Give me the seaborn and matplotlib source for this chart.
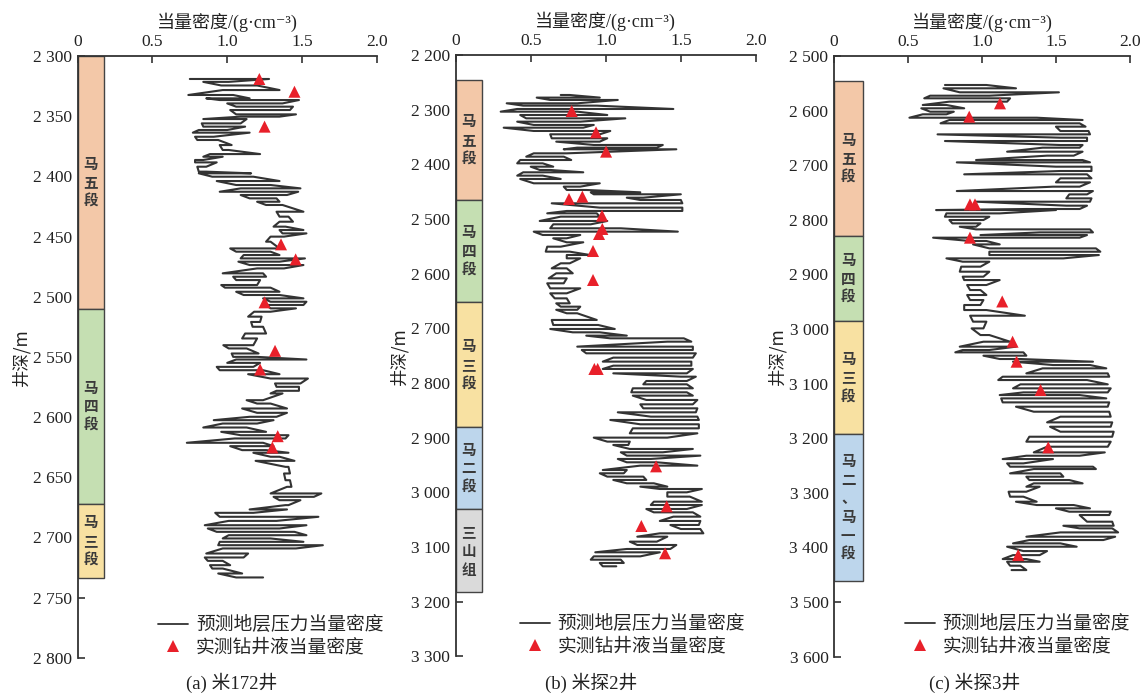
import matplotlib
matplotlib.use('Agg')
import matplotlib.pyplot as plt
import numpy as np
import pandas as pd
import seaborn as sns
from matplotlib.ticker import FuncFormatter, MultipleLocator
from matplotlib.lines import Line2D

# ---------------- data ----------------
# Well (a) 米172井 : depth, low / high of the predicted-density zigzag
a_depth = [2319.1, 2321.5, 2324.5, 2328.3, 2332.4, 2335.2, 2336.6, 2339.4, 2342.1, 2344.9, 2348.5, 2350.4,
           2352.4, 2356.0, 2358.7, 2361.5, 2363.7, 2367.1, 2369.8, 2374.0, 2378.1, 2381.5, 2383.7, 2386.4,
           2388.4, 2392.0, 2396.1, 2397.5, 2400.3, 2403.9, 2407.2, 2410.0, 2412.8, 2415.5, 2418.3, 2421.1,
           2423.8, 2429.4, 2433.5, 2437.7, 2441.8, 2444.6, 2447.4, 2450.1, 2454.3, 2459.9, 2462.6, 2465.4,
           2468.2, 2470.9, 2473.7, 2476.5, 2480.6, 2483.4, 2486.2, 2490.3, 2492.5, 2495.9, 2498.6, 2501.4,
           2504.2, 2506.9, 2509.7, 2512.5, 2516.6, 2521.0, 2525.0, 2530.6, 2534.7, 2540.3, 2543.0, 2547.2,
           2550.0, 2552.2, 2555.0, 2558.3, 2561.1, 2564.4, 2568.0, 2572.1, 2574.9, 2578.2, 2580.4, 2586.0,
           2588.8, 2592.9, 2596.5, 2599.8, 2602.6, 2605.4, 2608.7, 2612.3, 2615.1, 2617.8, 2621.4, 2624.2,
           2627.5, 2629.7, 2633.0, 2636.4, 2641.4, 2646.9, 2652.5, 2658.0, 2663.5, 2666.3, 2669.1, 2673.2,
           2676.8, 2679.6, 2682.9, 2686.3, 2689.9, 2692.6, 2695.4, 2698.2, 2700.9, 2703.7, 2706.5, 2709.2,
           2713.4, 2716.7, 2719.5, 2723.1, 2725.9, 2730.0, 2733.3]
a_low = [0.75, 0.84, 0.96, 0.97, 0.74, 0.86, 0.95, 1.00, 1.06, 1.02, 1.06, 1.09,
         0.84, 0.83, 0.84, 0.81, 0.77, 0.785, 0.80, 0.95, 0.97, 0.885, 0.84, 0.785,
         0.785, 0.80, 0.81, 0.81, 0.90, 0.93, 1.06, 1.09, 0.95, 1.09, 1.15, 1.20,
         1.26, 1.33, 1.35, 1.35, 1.31, 1.35, 1.37, 1.29, 1.26, 1.02, 1.06, 1.11,
         1.09, 1.075, 1.15, 1.20, 0.97, 1.04, 1.06, 0.96, 0.985, 1.06, 1.11, 1.24,
         1.29, 1.26, 1.29, 1.18, 1.14, 1.16, 1.17, 1.12, 1.10, 0.974, 1.01, 1.03,
         1.04, 1.06, 1.00, 0.93, 0.95, 1.14, 1.29, 1.32, 1.33, 1.33, 1.29, 1.13,
         1.20, 1.10, 1.20, 1.15, 0.91, 0.97, 0.84, 0.96, 1.09, 1.05, 0.73, 1.02,
         1.10, 1.175, 1.29, 1.19, 1.39, 1.38, 1.39, 1.40, 1.29, 1.31, 1.35, 1.39,
         1.15, 0.92, 0.95, 1.01, 0.85, 0.87, 0.93, 1.01, 0.97, 0.95, 0.94, 0.97,
         0.86, 0.85, 0.87, 0.885, 0.90, 0.94, 1.06]
a_high = [1.28, 1.01, 1.20, 1.35, 1.04, 1.15, 1.48, 1.37, 1.44, 1.42, 1.46, 1.35,
          1.13, 1.09, 1.12, 1.00, 1.15, 0.91, 0.94, 1.03, 1.01, 1.22, 0.97, 0.84,
          0.93, 0.86, 0.86, 1.16, 1.175, 1.35, 1.29, 1.49, 1.475, 1.40, 1.33, 1.35,
          1.37, 1.51, 1.41, 1.44, 1.39, 1.51, 1.53, 1.38, 1.29, 1.35, 1.29, 1.35,
          1.52, 1.35, 1.51, 1.38, 1.24, 1.26, 1.22, 1.20, 1.29, 1.35, 1.35, 1.51,
          1.53, 1.51, 1.46, 1.29, 1.23, 1.22, 1.24, 1.26, 1.20, 1.175, 1.13, 1.21,
          1.20, 1.53, 1.22, 1.175, 1.24, 1.35, 1.54, 1.49, 1.48, 1.48, 1.37, 1.24,
          1.29, 1.40, 1.40, 1.33, 1.31, 1.20, 1.13, 1.26, 1.41, 1.39, 1.24, 1.31,
          1.26, 1.41, 1.35, 1.45, 1.41, 1.42, 1.42, 1.43, 1.63, 1.58, 1.49, 1.41,
          1.40, 1.175, 1.61, 1.33, 1.53, 1.35, 1.45, 1.53, 1.29, 1.51, 1.64, 1.46,
          1.14, 1.11, 0.97, 1.02, 0.97, 1.10, 1.24]
a_meas_depth = [2319.1, 2329.7, 2358.7, 2456.5, 2469.0, 2504.7, 2545.0, 2560.5, 2615.9, 2625.3]
a_meas_dens = [1.215, 1.45, 1.25, 1.36, 1.458, 1.25, 1.32, 1.22, 1.338, 1.302]
a_strata = ['马五段', '马四段', '马三段']
a_top = [2300, 2510, 2672]
a_bot = [2510, 2672, 2734]

# Well (b) 米探2井
b_depth = [2273.2, 2278.0, 2282.3, 2288.4, 2292.7, 2298.8, 2303.7, 2309.8, 2315.9, 2322.0, 2328.0, 2333.0,
           2339.0, 2345.1, 2352.4, 2358.5, 2364.6, 2369.5, 2372.5, 2379.9, 2386.0, 2392.1, 2398.2, 2404.3,
           2410.3, 2414.6, 2420.7, 2426.8, 2434.7, 2440.8, 2446.9, 2451.2, 2454.8, 2461.0, 2465.2, 2471.3,
           2479.2, 2485.3, 2489.6, 2495.7, 2503.6, 2509.7, 2517.0, 2523.1, 2529.2, 2535.3, 2542.6, 2550.6,
           2559.7, 2565.8, 2571.9, 2581.0, 2590.2, 2599.3, 2608.5, 2617.6, 2626.8, 2635.9, 2645.1, 2654.2,
           2660.3, 2666.0, 2672.4, 2684.6, 2693.8, 2701.1, 2707.2, 2713.3, 2718.2, 2724.3, 2733.4, 2739.5,
           2745.6, 2753.5, 2760.8, 2768.2, 2774.2, 2782.2, 2788.3, 2796.2, 2802.3, 2809.6, 2816.9, 2823.0,
           2830.9, 2838.9, 2846.2, 2853.5, 2861.4, 2867.5, 2875.4, 2882.8, 2891.9, 2899.8, 2907.1, 2913.2,
           2920.5, 2926.6, 2932.7, 2938.8, 2944.9, 2951.0, 2959.0, 2965.0, 2971.1, 2977.2, 2983.3, 2989.4,
           2993.7, 2999.8, 3007.7, 3016.9, 3023.0, 3030.3, 3036.4, 3044.3, 3052.2, 3059.5, 3066.9, 3074.8,
           3080.9, 3090.0, 3096.1, 3103.4, 3109.5, 3116.9, 3123.0, 3129.0, 3135.1]
b_low = [0.70, 0.54, 0.63, 0.34, 0.45, 0.41, 0.30, 0.43, 0.47, 0.41, 0.52, 0.32,
         0.52, 0.63, 0.64, 0.67, 0.92, 0.81, 0.72, 0.52, 0.47, 0.43, 0.41, 0.50,
         0.56, 0.45, 0.41, 0.43, 0.52, 0.72, 0.74, 0.90, 0.92, 1.14, 1.23, 0.64,
         0.96, 0.74, 0.61, 0.70, 0.56, 0.65, 0.63, 0.52, 0.58, 0.65, 0.74, 0.61,
         0.60, 0.74, 0.74, 0.70, 0.64, 0.67, 0.62, 0.61, 0.63, 0.63, 0.66, 0.67,
         0.70, 0.67, 0.74, 0.64, 0.65, 0.63, 0.78, 0.87, 1.03, 1.41, 0.81, 0.84,
         0.87, 1.05, 0.98, 1.05, 0.98, 1.05, 1.50, 1.27, 1.25, 1.18, 1.17, 1.18,
         1.27, 1.23, 1.25, 1.08, 1.30, 1.03, 1.23, 1.18, 1.16, 0.92, 1.01, 1.05,
         1.16, 1.10, 1.14, 1.08, 1.14, 1.23, 0.98, 0.96, 1.01, 1.05, 1.14, 1.23,
         1.36, 1.41, 1.41, 1.32, 1.30, 1.27, 1.32, 1.45, 1.36, 1.43, 1.50, 1.36,
         1.21, 1.16, 1.21, 1.14, 0.93, 0.92, 0.90, 0.96, 0.98]
b_high = [0.76, 0.96, 1.08, 0.81, 0.94, 1.45, 0.81, 1.01, 1.13, 0.83, 0.92, 0.85,
          1.03, 0.96, 1.01, 0.96, 1.38, 1.34, 1.47, 0.74, 0.72, 0.77, 0.58, 0.65,
          0.63, 0.85, 0.58, 0.70, 0.96, 0.83, 0.87, 1.23, 1.50, 1.25, 1.50, 1.51,
          1.51, 1.51, 0.94, 0.96, 1.01, 0.90, 1.10, 1.48, 0.83, 0.74, 0.85, 0.70,
          0.76, 0.895, 0.83, 0.76, 0.74, 0.78, 0.74, 0.72, 0.83, 0.74, 0.74, 0.76,
          0.83, 0.81, 0.81, 0.94, 0.95, 1.06, 0.96, 1.14, 1.52, 1.57, 1.58, 1.58,
          1.60, 1.58, 1.57, 1.57, 1.58, 1.54, 1.60, 1.54, 1.54, 1.58, 1.54, 1.58,
          1.61, 1.58, 1.61, 1.60, 1.61, 1.62, 1.62, 1.62, 1.61, 1.41, 1.16, 1.15,
          1.58, 1.38, 1.63, 1.30, 1.34, 1.61, 1.14, 1.12, 1.25, 1.27, 1.32, 1.41,
          1.64, 1.54, 1.56, 1.64, 1.64, 1.54, 1.58, 1.63, 1.63, 1.62, 1.63, 1.65,
          1.41, 1.34, 1.47, 1.43, 1.36, 1.23, 1.10, 1.12, 1.07]
b_meas_depth = [2302.5, 2341.5, 2376.8, 2459.1, 2463.4, 2493.9, 2518.2, 2527.4, 2558.5, 2611.5,
                2774.2, 2774.2, 2952.3, 3025.4, 3061.4, 3111.3]
b_meas_dens = [0.773, 0.935, 1.002, 0.844, 0.755, 0.975, 0.977, 0.955, 0.915, 0.915,
               0.924, 0.946, 1.335, 1.406, 1.237, 1.395]
b_strata = ['马五段', '马四段', '马三段', '马二段', '三山组']
b_top = [2246, 2465, 2652, 2881, 3031]
b_bot = [2465, 2652, 2881, 3031, 3183]

# Well (c) 米探3井
c_depth = [2553.1, 2559.2, 2566.5, 2572.7, 2577.5, 2583.6, 2589.7, 2595.8, 2602.0, 2606.8, 2613.0, 2617.2,
           2623.3, 2629.4, 2637.4, 2643.5, 2649.6, 2655.7, 2663.0, 2667.9, 2675.2, 2682.5, 2690.5, 2694.8,
           2702.7, 2710.6, 2716.7, 2724.0, 2731.4, 2739.3, 2747.3, 2753.4, 2760.7, 2766.8, 2774.1, 2780.2,
           2782.1, 2788.2, 2794.3, 2800.4, 2806.5, 2812.6, 2817.5, 2823.0, 2827.9, 2832.7, 2838.8, 2845.0,
           2852.3, 2858.4, 2864.5, 2870.6, 2876.7, 2885.8, 2895.0, 2904.1, 2910.3, 2919.4, 2928.6, 2937.7,
           2946.9, 2956.0, 2965.2, 2975.6, 2986.5, 2998.8, 3011.0, 3023.2, 3032.3, 3038.4, 3042.7, 3048.8,
           3054.9, 3059.8, 3065.9, 3072.0, 3081.2, 3087.3, 3093.4, 3101.3, 3108.6, 3116.0, 3120.9, 3127.0,
           3134.3, 3142.2, 3151.4, 3160.5, 3170.9, 3178.9, 3188.0, 3197.2, 3206.3, 3215.5, 3225.9, 3232.0,
           3238.1, 3246.0, 3252.1, 3256.4, 3264.3, 3270.4, 3276.5, 3282.6, 3288.7, 3297.9, 3307.0, 3316.2,
           3322.3, 3328.4, 3334.5, 3340.6, 3352.8, 3360.2, 3365.0, 3372.4, 3380.3, 3386.4, 3392.5, 3398.6,
           3406.6, 3414.0, 3421.2, 3426.1, 3433.4, 3441.4]
c_low = [0.75, 0.74, 0.85, 0.65, 0.61, 0.78, 0.60, 0.59, 0.65, 0.60, 0.51, 0.78,
         0.72, 1.50, 1.53, 0.70, 1.53, 0.75, 1.53, 1.41, 1.17, 1.44, 0.96, 0.83,
         1.50, 1.53, 0.88, 1.53, 1.50, 1.48, 0.83, 1.59, 1.57, 0.96, 1.57, 1.30,
         0.69, 0.76, 0.75, 0.78, 0.80, 0.85, 0.96, 1.39, 0.99, 0.67, 0.92, 0.94,
         1.05, 1.05, 1.05, 0.76, 0.87, 0.86, 0.85, 0.87, 0.88, 0.90, 0.92, 0.90,
         0.92, 0.88, 0.88, 0.92, 0.94, 0.93, 0.99, 1.01, 0.85, 0.87, 0.82, 1.01,
         1.12, 1.21, 1.48, 1.41, 1.30, 1.14, 1.11, 1.26, 1.21, 1.28, 1.12, 1.13,
         1.14, 1.23, 1.35, 1.53, 1.44, 1.46, 1.53, 1.32, 1.30, 1.44, 1.35, 1.30,
         1.14, 1.17, 1.19, 1.35, 1.19, 1.30, 1.32, 1.35, 1.30, 1.18, 1.19, 1.23,
         1.37, 1.50, 1.59, 1.66, 1.71, 1.55, 1.66, 1.53, 1.30, 1.32, 1.21, 1.17,
         1.28, 1.21, 1.14, 1.17, 1.19, 1.20]
c_high = [1.03, 1.23, 1.52, 1.05, 1.19, 1.17, 0.76, 0.88, 0.81, 0.76, 1.37, 1.68,
          1.66, 1.70, 1.72, 1.73, 1.71, 1.71, 1.68, 1.66, 1.68, 1.62, 1.68, 1.73,
          1.74, 1.74, 1.71, 1.74, 1.73, 1.66, 1.75, 1.71, 1.74, 1.73, 1.71, 1.66,
          1.50, 1.12, 1.05, 1.01, 0.99, 0.96, 1.73, 1.75, 1.71, 1.66, 1.03, 1.12,
          1.77, 1.80, 1.79, 1.55, 1.05, 0.99, 1.05, 1.01, 1.12, 1.03, 0.99, 1.03,
          1.01, 0.99, 1.03, 1.29, 1.03, 1.01, 1.05, 1.19, 1.23, 1.05, 1.28, 1.30,
          1.26, 1.75, 1.73, 1.84, 1.85, 1.86, 1.71, 1.85, 1.87, 1.85, 1.66, 1.84,
          1.86, 1.85, 1.86, 1.87, 1.88, 1.87, 1.89, 1.88, 1.87, 1.85, 1.83, 1.66,
          1.48, 1.28, 1.75, 1.77, 1.53, 1.55, 1.59, 1.68, 1.39, 1.30, 1.28, 1.37,
          1.62, 1.73, 1.87, 1.86, 1.88, 1.89, 1.88, 1.92, 1.90, 1.82, 1.53, 1.64,
          1.44, 1.39, 1.30, 1.39, 1.26, 1.30]
c_meas_depth = [2586.7, 2611.1, 2771.7, 2771.7, 2832.7, 2949.5, 3023.2, 3059.8, 3111.7, 3216.7, 3413.9]
c_meas_dens = [1.122, 0.914, 0.919, 0.953, 0.919, 1.137, 1.207, 1.234, 1.396, 1.448, 1.245]
c_strata = ['马五段', '马四段', '马三段', '马二、马一段']
c_top = [2545, 2830, 2985, 3193]
c_bot = [2830, 2985, 3193, 3461]

x_ticks = [0, 0.5, 1.0, 1.5, 2.0]
x_ticklabels = ['0', '0.5', '1.0', '1.5', '2.0']
legend_labels = ['预测地层压力当量密度', '实测钻井液当量密度']
xlabel_text = '当量密度/(g·cm⁻³)'
ylabel_text = '井深/m'

strata_colors = {'马五段': '#F3C8A8', '马四段': '#C5DFB2', '马三段': '#F8E1A2',
                 '马二段': '#BDD6EC', '马二、马一段': '#BDD6EC', '三山组': '#DADADA'}

# ---------------- style ----------------
sns.set_theme(style='white')
plt.rcParams['font.family'] = ['Liberation Serif', 'Noto Sans CJK SC', 'DejaVu Sans']
CJK = ['Noto Sans CJK SC', 'DejaVu Sans']
SERIF = ['Liberation Serif', 'DejaVu Serif', 'Noto Sans CJK SC']
LINE_C = '#333333'
TRI_C = '#E8202A'
AX_C = '#333333'

fig = plt.figure(figsize=(11.46, 6.93), dpi=100)


def zigzag(depth, lo, hi):
    xs, ys = [], []
    for i, (d, l, h) in enumerate(zip(depth, lo, hi)):
        pair = (l, h) if i % 2 == 0 else (h, l)
        xs.extend(pair)
        ys.extend([d, d])
    return pd.DataFrame({'dens': xs, 'depth': ys})


def panel(rect, depth, lo, hi, md, mx, names, tops, bots, ylim, ystep, bar_w,
          caption, cap_x, leg_x):
    ax = fig.add_axes(rect)
    ax.set_axisbelow(True)
    # strata column
    for n, t, b in zip(names, tops, bots):
        ax.bar(0, b - t, bottom=t, width=bar_w, align='edge',
               color=strata_colors[n], edgecolor='#444444', linewidth=1.0, zorder=2)
        ax.text(bar_w / 2, (t + b) / 2, '\n'.join(n), ha='center', va='center',
                family=CJK, fontsize=10.5, fontweight='bold', color='#3a3a3a',
                linespacing=1.2, zorder=3)
    df = zigzag(depth, lo, hi)
    sns.lineplot(data=df, x='dens', y='depth', sort=False, estimator=None,
                 color=LINE_C, linewidth=1.5, ax=ax, zorder=4)
    sns.scatterplot(x=mx, y=md, marker='^', color=TRI_C, s=75, edgecolor='none',
                    ax=ax, zorder=5)
    ax.set_xlim(0, 2.0)
    ax.set_ylim(ylim[1], ylim[0])
    ax.xaxis.tick_top()
    ax.xaxis.set_label_position('top')
    ax.set_xticks(x_ticks)
    ax.set_xticklabels(x_ticklabels)
    ax.yaxis.set_major_locator(MultipleLocator(ystep))
    ax.yaxis.set_major_formatter(FuncFormatter(lambda v, p: f'{int(round(v)):,}'.replace(',', ' ')))
    ax.tick_params(axis='both', direction='in', length=5, width=1.2, color=AX_C,
                   labelsize=12.5, labelcolor='#222222')
    ax.tick_params(axis='x', pad=4, top=True, bottom=False)
    ax.tick_params(axis='y', pad=4, left=True, right=False)
    for s in ['right', 'bottom']:
        ax.spines[s].set_visible(False)
    for s in ['left', 'top']:
        ax.spines[s].set_color(AX_C)
        ax.spines[s].set_linewidth(1.3)
        ax.spines[s].set_zorder(6)
    ax.set_xlabel(xlabel_text, family=SERIF, fontsize=13, labelpad=5, color='#222222')
    ax.set_ylabel(ylabel_text, family=CJK, fontsize=12.5, labelpad=2, color='#222222')
    ax.grid(False)
    handles = [Line2D([], [], color=LINE_C, lw=1.3),
               Line2D([], [], marker='^', ls='none', color=TRI_C, markersize=9, markeredgewidth=0)]
    ax.legend(handles, legend_labels, loc='upper left', bbox_to_anchor=(leg_x, 0.072),
              frameon=False, prop={'family': CJK, 'size': 13.5}, handlelength=1.6,
              handletextpad=0.4, labelspacing=0.05, borderpad=0, borderaxespad=0)
    fig.text(cap_x / 1146, 1 - 683 / 693, caption, ha='center', va='center',
             family=SERIF, fontsize=13.5, color='#222222')
    return ax


panel([0.0678, 0.0509, 0.2609, 0.8683], a_depth, a_low, a_high, a_meas_depth, a_meas_dens,
      a_strata, a_top, a_bot, (2300, 2800), 50, 0.176, '(a) 米172井', 232, 0.27)
panel([0.3976, 0.0527, 0.2620, 0.8680], b_depth, b_low, b_high, b_meas_depth, b_meas_dens,
      b_strata, b_top, b_bot, (2200, 3300), 100, 0.175, '(b) 米探2井', 591, 0.214)
panel([0.7277, 0.0524, 0.2583, 0.8668], c_depth, c_low, c_high, c_meas_depth, c_meas_dens,
      c_strata, c_top, c_bot, (2500, 3600), 100, 0.194, '(c) 米探3井', 975, 0.24)

fig.savefig('out.png', dpi=100)
